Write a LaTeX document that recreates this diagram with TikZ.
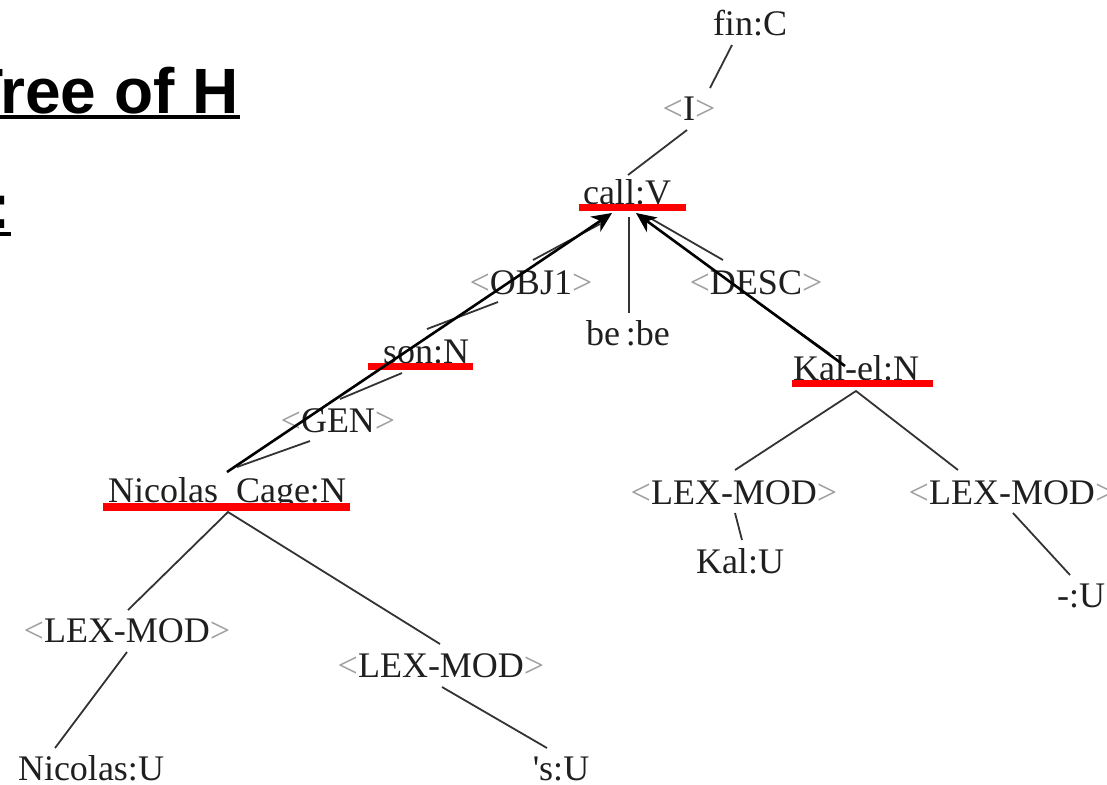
\documentclass[tikz,border=0pt]{standalone}
\usepackage{fontspec}
\setmainfont{Liberation Serif}
\newfontfamily\rawserif{Liberation Serif}
\newfontfamily\titlefont{Liberation Sans}
\usetikzlibrary{arrows.meta}
\definecolor{brk}{gray}{0.62}
\definecolor{txt}{gray}{0.12}
\definecolor{edgec}{gray}{0.2}
\newcommand\abr[1]{\textcolor{brk}{<}#1\textcolor{brk}{>}}
\tikzset{
  lbl/.style={inner sep=0pt, anchor=base, text=txt, font=\fontsize{18pt}{20pt}\selectfont},
  tedge/.style={draw=edgec, line width=0.9pt},
  darrow/.style={draw=black, line width=1.3pt, -{Stealth[length=10pt,width=9pt,inset=3pt]}},
  redbar/.style={fill=red, draw=none},
  title/.style={inner sep=0pt, anchor=base east, font=\titlefont\bfseries\fontsize{32pt}{36pt}\selectfont},
  ubar/.style={fill=black, draw=none}
}
\begin{document}
\begin{tikzpicture}[x=0.5pt,y=-0.5pt]
\useasboundingbox (0,0) rectangle (1107,784);
\clip (0,0) rectangle (1107,784);
% title fragments
\node[title] (t1) at (239,113) {Tree of H};
\fill[ubar] (-5,115) rectangle (240,119);
\node[title] (t2) at (11,228) {E:};
\fill[ubar] (-5,232) rectangle (11,236);
% nodes
\node[lbl] (fin) at (750,35) {fin:C};
\node[lbl] (I) at (689,120) {\abr{I}};
\node[lbl] (call) at (627,204) {call:V};
\node[lbl] (obj) at (531,294) {\abr{OBJ1}};
\node[lbl] (be) at (628,345) {be\,:be};
\node[lbl] (desc) at (756,294) {\abr{DESC}};
\node[lbl] (son) at (426,363) {son:N};
\node[lbl] (kal) at (856,380) {Kal-el:N};
\node[lbl] (gen) at (338,432) {\abr{GEN}};
\node[lbl] (nc) at (227,502) {Nicolas\_Cage:N};
\node[lbl] (klm) at (734,504) {\abr{LEX-MOD}};
\node[lbl] (krm) at (1012,504) {\abr{LEX-MOD}};
\node[lbl] (kalu) at (740,573) {Kal:U};
\node[lbl] (du) at (1081,607) {-:U};
\node[lbl] (nlm) at (127,642) {\abr{LEX-MOD}};
\node[lbl] (nrm) at (441,677) {\abr{LEX-MOD}};
\node[lbl] (nicu) at (91,780) {Nicolas:U};
\node[lbl] (su) at (561,780) {{\rawserif'}s:U};
% red underlines (over the text)
\fill[redbar] (579,204) rectangle (686,211);
\fill[redbar] (368,363) rectangle (473,370);
\fill[redbar] (792,380) rectangle (933,387);
\fill[redbar] (103,503) rectangle (350,511);
% edge end points
\coordinate (e1a) at (732,45);  \coordinate (e1b) at (710,88);
\coordinate (e2a) at (687,130); \coordinate (e2b) at (628,175);
\coordinate (e3a) at (600,224); \coordinate (e3b) at (533,260);
\coordinate (e4a) at (498,302); \coordinate (e4b) at (427,329);
\coordinate (e5a) at (402,373); \coordinate (e5b) at (340,399);
\coordinate (e6a) at (310,441); \coordinate (e6b) at (237,467);
\coordinate (e7a) at (629,217); \coordinate (e7b) at (629,313);
\coordinate (e8a) at (650,218); \coordinate (e8b) at (723,260);
\coordinate (e9a) at (757,302); \coordinate (e9b) at (830,354);
\coordinate (kapex) at (856,391);
\coordinate (e10b) at (735,470); \coordinate (e11b) at (958,470);
\coordinate (e12a) at (735,513); \coordinate (e12b) at (742,540);
\coordinate (e13a) at (1013,513); \coordinate (e13b) at (1070,575);
\coordinate (napex) at (228,512);
\coordinate (e14b) at (128,610); \coordinate (e15b) at (440,644);
\coordinate (e16a) at (127,652); \coordinate (e16b) at (55,748);
\coordinate (e17a) at (442,687); \coordinate (e17b) at (547,748);
% tree edges
\draw[tedge] (e1a) -- (e1b);
\draw[tedge] (e2a) -- (e2b);
\draw[tedge] (e3a) -- (e3b);
\draw[tedge] (e4a) -- (e4b);
\draw[tedge] (e5a) -- (e5b);
\draw[tedge] (e6a) -- (e6b);
\draw[tedge] (e7a) -- (e7b);
\draw[tedge] (e8a) -- (e8b);
\draw[tedge] (e9a) -- (e9b);
\draw[tedge] (e10b) -- (kapex) -- (e11b);
\draw[tedge] (e12a) -- (e12b);
\draw[tedge] (e13a) -- (e13b);
\draw[tedge] (e14b) -- (napex) -- (e15b);
\draw[tedge] (e16a) -- (e16b);
\draw[tedge] (e17a) -- (e17b);
% dependency arrows
\coordinate (a1s) at (227,472); \coordinate (a1t) at (612,213);
\coordinate (a2s) at (845,366); \coordinate (a2t) at (636,213);
\draw[darrow] (a1s) -- (a1t);
\draw[darrow] (a2s) -- (a2t);
\end{tikzpicture}
\end{document}
